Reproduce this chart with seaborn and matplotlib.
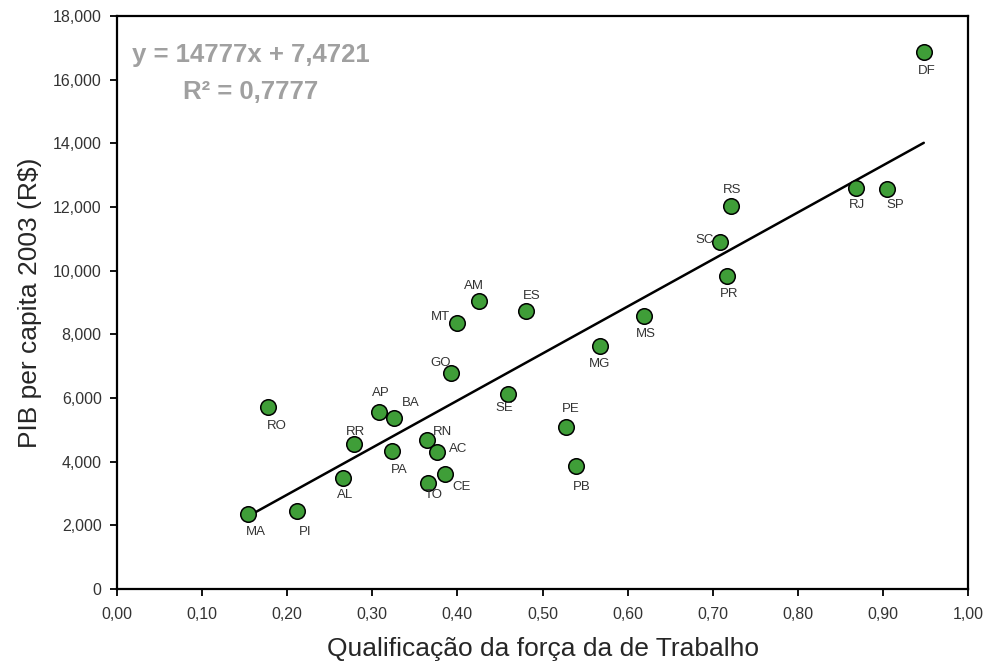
import matplotlib
matplotlib.use('Agg')
import matplotlib.pyplot as plt
from matplotlib.ticker import FuncFormatter, MultipleLocator
import seaborn as sns
import pandas as pd
import numpy as np

# Estados e valores
estados = ['DF', 'RS', 'RJ', 'SP', 'SC', 'PR', 'MS', 'MG', 'ES', 'SE', 'PE', 'PB',
           'AM', 'MT', 'GO', 'RO', 'AP', 'BA', 'RR', 'RN', 'AC', 'PA', 'CE', 'TO',
           'AL', 'PI', 'MA']
qualificacao = [0.948, 0.721, 0.868, 0.905, 0.709, 0.717, 0.619, 0.567, 0.481, 0.459,
                0.528, 0.539, 0.425, 0.400, 0.393, 0.177, 0.308, 0.326, 0.279, 0.364,
                0.376, 0.323, 0.386, 0.366, 0.265, 0.212, 0.154]
pib = [16860, 12030, 12610, 12580, 10890, 9830, 8580, 7630, 8740, 6130,
       5100, 3860, 9060, 8370, 6800, 5730, 5550, 5380, 4550, 4670,
       4300, 4350, 3600, 3330, 3480, 2460, 2360]
# deslocamento dos rótulos (pixels)
rot_dx = [3, 2, 1, 8, -16, 2, 2, 0, 5, -3, 4, 6, -5, -17, -11, 9, 2, 16, 1, 16,
          21, 7, 16, 5, 3, 8, 8]
rot_dy = [19, -16, 17, 16, -2, 18, 18, 18, -15, 14, -18, 21, -15, -6, -10, 19, -19,
          -15, -12, -8, -3, 19, 13, 12, 17, 21, 18]

coef_a = 14777
coef_b = 7.4721

df = pd.DataFrame({'estado': estados, 'x': qualificacao, 'y': pib})

sns.set_style('white')
plt.rcParams['font.family'] = ['Liberation Sans', 'DejaVu Sans']

fig = plt.figure(figsize=(9.88, 6.64), dpi=100)
ax = fig.add_axes([0.1184, 0.1130, 0.8614, 0.8629])

# reta de regressão
xs = np.array([df['x'].min(), df['x'].max()])
linha = pd.DataFrame({'x': xs, 'y': coef_a * xs + coef_b})
sns.lineplot(data=linha, x='x', y='y', color='black', linewidth=1.8, ax=ax)

sns.scatterplot(data=df, x='x', y='y', s=125, color='#3f9e38', edgecolor='black',
                linewidth=1.1, ax=ax, zorder=3)

for est, xv, yv, dx, dy in zip(estados, qualificacao, pib, rot_dx, rot_dy):
    ax.annotate(est, (xv, yv), xytext=(dx * 0.72, -dy * 0.72), textcoords='offset points',
                ha='center', va='center', fontsize=9.5, color='#333333')

ax.text(0.1575, 0.932, 'y = 14777x + 7,4721', transform=ax.transAxes,
        ha='center', va='center', fontsize=18.5, fontweight='bold', color='#a0a0a0')
ax.text(0.1575, 0.867, 'R² = 0,7777', transform=ax.transAxes,
        ha='center', va='center', fontsize=18.5, fontweight='bold', color='#a0a0a0')

ax.set_xlim(0, 1)
ax.set_ylim(0, 18000)
ax.xaxis.set_major_locator(MultipleLocator(0.1))
ax.yaxis.set_major_locator(MultipleLocator(2000))
ax.xaxis.set_major_formatter(FuncFormatter(lambda v, p: f'{v:.2f}'.replace('.', ',')))
ax.yaxis.set_major_formatter(FuncFormatter(lambda v, p: f'{int(round(v)):,}'))
ax.tick_params(axis='both', direction='out', length=5, width=1.3, labelsize=11.5,
               labelcolor='#333333', color='black', left=True, bottom=True, pad=6)
ax.tick_params(axis='x', pad=8)

for sp in ax.spines.values():
    sp.set_color('black')
    sp.set_linewidth(1.6)

ax.set_xlabel('Qualificação da força da de Trabalho', fontsize=19, labelpad=11)
ax.set_ylabel('PIB per capita 2003 (R\\$)', fontsize=19, labelpad=8)

fig.savefig('out.png', dpi=100)
